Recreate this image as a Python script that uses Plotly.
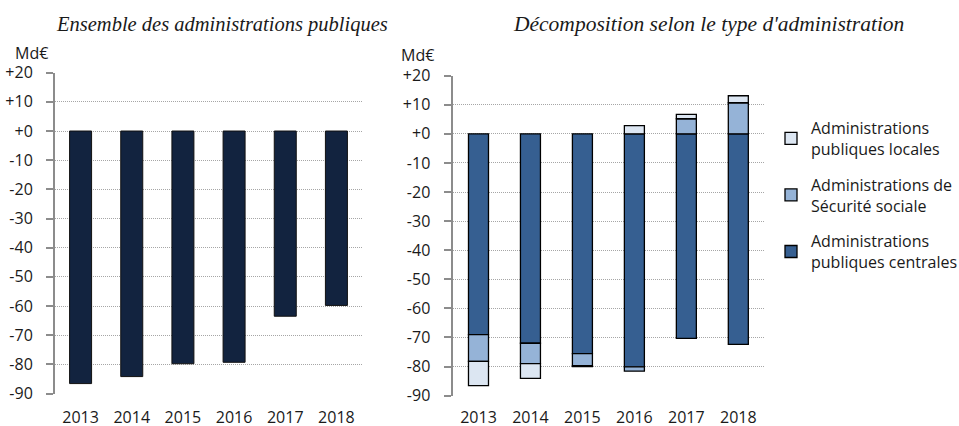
import plotly.graph_objects as go

# ---------------- data ----------------
years = ["2013", "2014", "2015", "2016", "2017", "2018"]
total_apu = [-86.6, -84.2, -79.8, -79.3, -63.5, -59.8]
apu_centrales = [-69.0, -72.0, -75.6, -80.1, -70.3, -72.4]
asso = [-9.2, -7.0, -4.1, -1.5, 5.2, 10.7]
apu_locales = [-8.4, -5.1, -0.3, 2.8, 1.5, 2.4]

y_tick_vals = [20, 10, 0, -10, -20, -30, -40, -50, -60, -70, -80, -90]
y_tick_text = ["+20", "+10", "+0", "-10", "-20", "-30", "-40", "-50", "-60", "-70", "-80", "-90"]

title_left = "Ensemble des administrations publiques"
title_right = "Décomposition selon le type d'administration"
unit = "Md€"
names = {
    "c": "Administrations<br>publiques centrales",
    "s": "Administrations de<br>Sécurité sociale",
    "l": "Administrations<br>publiques locales",
}

# ---------------- styling ----------------
W, H = 959, 426
FONT = "Open Sans"
GREY = "#8c8c8c"
C_TOTAL = "#12233F"
C_CENT = "#365F91"
C_SS = "#95B3D7"
C_LOC = "#DCE6F2"
Y_RANGE = [-90, 20]

xi = list(range(len(years)))
bounds = [i + 0.5 for i in range(-1, len(years))]
x_range = [-0.5, len(years) - 0.5]

left_x = [55 / W, 362 / W]
right_x = [452.5 / W, 764.3 / W]
left_y = [1 - 393.5 / H, 1 - 72.7 / H]
right_y = [1 - 395.6 / H, 1 - 75.7 / H]


def zero_pos(dom):
    return dom[0] + (0 - Y_RANGE[0]) / (Y_RANGE[1] - Y_RANGE[0]) * (dom[1] - dom[0])


fig = go.Figure()

fig.add_trace(go.Bar(
    x=xi, y=total_apu, xaxis="x", yaxis="y", width=0.43,
    marker=dict(color=C_TOTAL, line=dict(color="#111111", width=1)),
    showlegend=False, hoverinfo="y"))

for rank, (key, vals, col) in zip([3, 2, 1], [("c", apu_centrales, C_CENT),
                                              ("s", asso, C_SS),
                                              ("l", apu_locales, C_LOC)]):
    fig.add_trace(go.Bar(
        x=xi, y=vals, xaxis="x2", yaxis="y2", width=0.385, name=names[key],
        legendgroup=key, legendrank=rank,
        marker=dict(color=col, line=dict(color="#000000", width=1.3))))

tickfont = dict(family=FONT, size=16, color="#1a1a1a")

common_x = dict(range=x_range, tickvals=xi, ticktext=years, showgrid=False, zeroline=False,
                showline=False, ticks="", tickfont=tickfont, fixedrange=True)
common_y = dict(range=Y_RANGE, tickvals=y_tick_vals, ticktext=y_tick_text, showgrid=True,
                gridcolor="#a6a6a6", griddash="1px,1px", gridwidth=1, zeroline=False,
                showline=True, linecolor=GREY, linewidth=2, ticks="outside", ticklen=7,
                tickcolor=GREY, tickwidth=1.5, tickfont=tickfont, ticklabelstandoff=10,
                fixedrange=True)
zero_axis = dict(range=x_range, tickvals=bounds, showticklabels=False, ticks="outside",
                 ticklen=6, tickcolor=GREY, tickwidth=1.5, showline=True, linecolor=GREY,
                 linewidth=2, showgrid=False, zeroline=False, anchor="free")

fig.update_layout(
    width=W, height=H, margin=dict(l=0, r=0, t=0, b=0, autoexpand=False),
    paper_bgcolor="white", plot_bgcolor="white",
    barmode="relative", showlegend=True,
    xaxis=dict(domain=left_x, anchor="y", ticklabelstandoff=12, **common_x),
    yaxis=dict(domain=left_y, anchor="x", **common_y),
    xaxis2=dict(domain=right_x, anchor="y2", ticklabelstandoff=10, **common_x),
    yaxis2=dict(domain=right_y, anchor="x2", **common_y),
    xaxis3=dict(overlaying="x", position=zero_pos(left_y), **zero_axis),
    xaxis4=dict(overlaying="x2", position=zero_pos(right_y), **zero_axis),
    legend=dict(x=771 / W, y=1 - 111 / H, xanchor="left", yanchor="top",
                traceorder="grouped", tracegroupgap=12,
                font=dict(family=FONT, size=16, color="#1a1a1a"),
                bgcolor="rgba(0,0,0,0)", itemwidth=30),
    annotations=[
        dict(text="<i>" + title_left + "</i>", x=221.5 / W, y=1 - 24 / H, xref="paper", yref="paper",
             showarrow=False, xanchor="center", yanchor="middle",
             font=dict(family="Liberation Serif", size=20.5, color="#1a1a1a")),
        dict(text="<i>" + title_right + "</i>", x=708 / W, y=1 - 24 / H, xref="paper", yref="paper",
             showarrow=False, xanchor="center", yanchor="middle",
             font=dict(family="Liberation Serif", size=21.5, color="#1a1a1a")),
        dict(text=unit, x=13 / W, y=1 - 53 / H, xref="paper", yref="paper",
             showarrow=False, xanchor="left", yanchor="middle", font=tickfont),
        dict(text=unit, x=399 / W, y=1 - 54.5 / H, xref="paper", yref="paper",
             showarrow=False, xanchor="left", yanchor="middle", font=tickfont),
    ],
)

fig.write_html("out.html", config={"displayModeBar": False},
               post_script="document.body.style.margin='0';document.body.style.overflow='hidden';")
